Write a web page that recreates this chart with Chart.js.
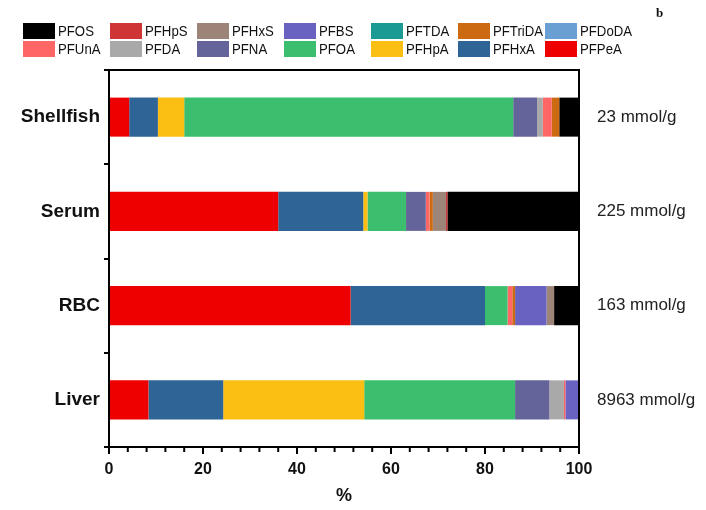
<!DOCTYPE html>
<html>
<head>
<meta charset="utf-8">
<script src="https://cdn.jsdelivr.net/npm/chart.js@4/dist/chart.umd.min.js"></script>
<style>
  html, body { margin: 0; padding: 0; background: #fff; }
  #wrap { width: 706px; height: 510px; position: relative; }
</style>
</head>
<body>
<div id="wrap"><canvas id="pfasChart"></canvas></div>
<script>
// Sample types (bars, top to bottom) and total concentration per sample
const samples = ['Shellfish', 'Serum', 'RBC', 'Liver'];
const totals = [23, 225, 163, 8963];
const xTicks = [0, 20, 40, 60, 80, 100];

// Share of each compound in percent, stacked left to right
const PFPeA   = [4.3, 36.0, 51.4, 8.4];
const PFHxA   = [6.1, 18.1, 28.6, 15.9];
const PFHpA   = [5.6, 0.9, 0, 30.0];
const PFOA    = [70.0, 8.2, 4.8, 32.1];
const PFNA    = [5.1, 4.2, 0, 7.3];
const PFDA    = [1.2, 0, 0, 3.1];
const PFUnA   = [1.9, 0.8, 1.0, 0.3];
const PFDoDA  = [0, 0, 0, 0];
const PFTriDA = [1.6, 0.7, 0.6, 0];
const PFTDA   = [0, 0, 0, 0];
const PFBS    = [0, 0, 6.7, 2.9];
const PFHxS   = [0, 2.8, 1.6, 0];
const PFHpS   = [0, 0.3, 0, 0];
const PFOS    = [4.2, 28.0, 5.3, 0];

const compounds = ['PFPeA', 'PFHxA', 'PFHpA', 'PFOA', 'PFNA', 'PFDA', 'PFUnA',
                   'PFDoDA', 'PFTriDA', 'PFTDA', 'PFBS', 'PFHxS', 'PFHpS', 'PFOS'];
const series = [PFPeA, PFHxA, PFHpA, PFOA, PFNA, PFDA, PFUnA,
                PFDoDA, PFTriDA, PFTDA, PFBS, PFHxS, PFHpS, PFOS];
const colors = ['#ee0000', '#2f6496', '#fbbf14', '#3bbf6e', '#64639a', '#a9a9a9', '#ff6666',
                '#6a9fd4', '#cc6a12', '#1a9a93', '#6a62c0', '#9d8479', '#cf3535', '#000000'];

const datasets = compounds.map((name, i) => ({
    label: name,
    data: series[i],
    backgroundColor: colors[i],
    borderWidth: 0,
    barPercentage: 0.414,
    categoryPercentage: 1.0
}));

// Legend laid out as a 7 x 2 grid, listed in reverse stack order
const gridLegend = {
    id: 'gridLegend',
    afterDraw(chart) {
        const ctx = chart.ctx;
        const items = chart.data.datasets.slice().reverse();
        ctx.save();
        ctx.font = '15px "Liberation Sans", Arial, sans-serif';
        ctx.textBaseline = 'middle';
        ctx.textAlign = 'left';
        items.forEach((ds, i) => {
            const col = i % 7, row = Math.floor(i / 7);
            const x = 23 + col * 87;
            const y = 31 + row * 18;
            ctx.fillStyle = ds.backgroundColor;
            ctx.fillRect(x, y - 8, 32, 16);
            ctx.fillStyle = '#111';
            // slightly condensed labels so long names stay inside their column
            ctx.save();
            ctx.translate(x + 35, y + 1);
            ctx.scale(0.88, 1);
            ctx.fillText(ds.label, 0, 0);
            ctx.restore();
        });
        // panel letter
        ctx.font = 'bold 13px "Liberation Serif", serif';
        ctx.fillText('b', 656, 14);
        ctx.restore();
    }
};

// Frame around the plot, minor x ticks and totals on the right
const frame = {
    id: 'frame',
    afterDraw(chart) {
        const { ctx, chartArea: a, scales } = chart;
        ctx.save();
        ctx.strokeStyle = '#000';
        ctx.lineWidth = 2;
        ctx.strokeRect(a.left, a.top, a.right - a.left, a.bottom - a.top);
        ctx.beginPath();
        for (let v = 4; v < 100; v += 4) {
            if (v % 20 === 0) continue;
            const px = scales.x.getPixelForValue(v);
            ctx.moveTo(px, a.bottom);
            ctx.lineTo(px, a.bottom + 5);
        }
        ctx.stroke();
        ctx.font = '17px "Liberation Sans", Arial, sans-serif';
        ctx.fillStyle = '#222';
        ctx.textBaseline = 'middle';
        ctx.textAlign = 'left';
        totals.forEach((t, i) => {
            const py = scales.y.getPixelForValue(i);
            ctx.fillText(t + ' mmol/g', a.right + 18, py);
        });
        ctx.restore();
    }
};

new Chart(document.getElementById('pfasChart'), {
    type: 'bar',
    data: { labels: samples, datasets: datasets },
    options: {
        indexAxis: 'y',
        responsive: true,
        maintainAspectRatio: false,
        animation: false,
        layout: { padding: { left: 0, top: 70, right: 127, bottom: 0 } },
        plugins: {
            legend: { display: false },
            tooltip: { enabled: false }
        },
        scales: {
            x: {
                stacked: true,
                min: 0,
                max: 100,
                afterBuildTicks: (scale) => { scale.ticks = xTicks.map(v => ({ value: v })); },
                afterFit: (scale) => { scale.height = 63; },
                border: { display: false },
                grid: { drawOnChartArea: false, drawTicks: true, tickLength: 7, color: '#000', lineWidth: 2 },
                ticks: {
                    padding: 6,
                    color: '#111',
                    font: { family: '"Liberation Sans", Arial, sans-serif', size: 16, weight: 'bold' },
                    maxRotation: 0
                },
                title: {
                    display: true,
                    text: '%',
                    color: '#111',
                    padding: { top: 0, bottom: 3 },
                    font: { family: '"Liberation Sans", Arial, sans-serif', size: 18, weight: 'bold' }
                }
            },
            y: {
                stacked: true,
                afterFit: (scale) => { scale.width = 109; },
                border: { display: false },
                grid: { offset: true, drawOnChartArea: false, drawTicks: true, tickLength: 5, color: '#000', lineWidth: 2 },
                ticks: {
                    padding: 4,
                    color: '#111',
                    font: { family: '"Liberation Sans", Arial, sans-serif', size: 19, weight: 'bold' }
                }
            }
        }
    },
    plugins: [gridLegend, frame]
});
</script>
</body>
</html>
